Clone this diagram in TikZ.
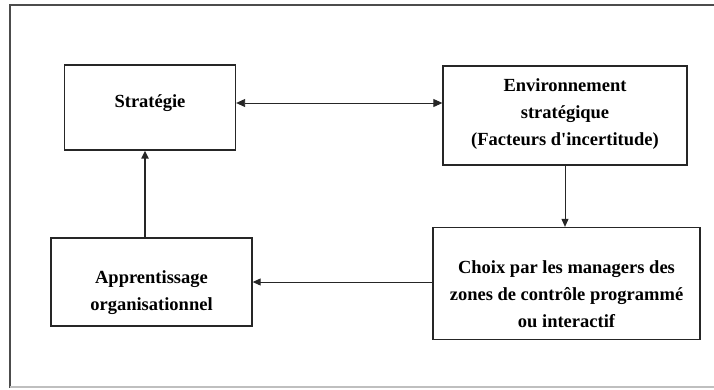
\documentclass[tikz,border=0pt]{standalone}
\usepackage{fontspec}
\setmainfont{Liberation Serif}
\usetikzlibrary{arrows.meta}
\begin{document}
\begin{tikzpicture}[x=1pt,y=-1pt,
  box/.style={draw=black!85, line width=1.3pt, rectangle, inner sep=0pt},
  label text/.style={align=center, inner sep=0pt,
    font=\fontsize{18.5}{27}\selectfont\bfseries},
  tip/.style={-{Triangle[length=8pt,width=7pt]}},
  link/.style={draw=black!85, line width=0.9pt, tip},
  linkthick/.style={draw=black!85, line width=2pt, tip},
  frame/.style={draw=black!70, line width=1.2pt}]
\useasboundingbox (0,0) rectangle (714,389);
% outer frame
\draw[frame] (10,388) -- (10,5) -- (714,5);
\draw[frame, draw=black!25] (10,387) -- (714,387);
% boxes
\node[box, minimum width=171pt, minimum height=85pt] (strat) at (150,107.5) {};
\node[box, minimum width=244pt, minimum height=99pt] (env) at (565,115.5) {};
\node[box, minimum width=267pt, minimum height=112pt] (choix) at (566.5,283.5) {};
\node[box, minimum width=201pt, minimum height=88pt] (appr) at (151.5,282) {};
% box texts
\node[label text] (strat-t) at (150,103) {Stratégie};
\node[label text] (env-t) at (565,114)
  {Environnement\\stratégique\\(Facteurs d\textquotesingle incertitude)};
\node[label text] (choix-t) at (566.5,294)
  {Choix par les managers des\\zones de contrôle programmé\\ou interactif};
\node[label text] (appr-t) at (151.5,293)
  {Apprentissage\\organisationnel};
% connectors
\coordinate (sa) at (strat.east |- 0,103);
\coordinate (ea) at (env.west |- 0,103);
\draw[link, {Triangle[length=9pt,width=8pt]}-{Triangle[length=9pt,width=8pt]}] (sa) -- (ea);
\coordinate (ed) at (env.south -| 565,0);
\coordinate (cd) at (choix.north -| 565,0);
\draw[link] (ed) -- (cd);
\coordinate (cl) at (choix.west |- 0,282);
\coordinate (ar) at (appr.east |- 0,282);
\draw[link] (cl) -- (ar);
\coordinate (au) at (appr.north -| 145,0);
\coordinate (su) at (strat.south -| 145,0);
\draw[linkthick] (au) -- (su);
\end{tikzpicture}
\end{document}
